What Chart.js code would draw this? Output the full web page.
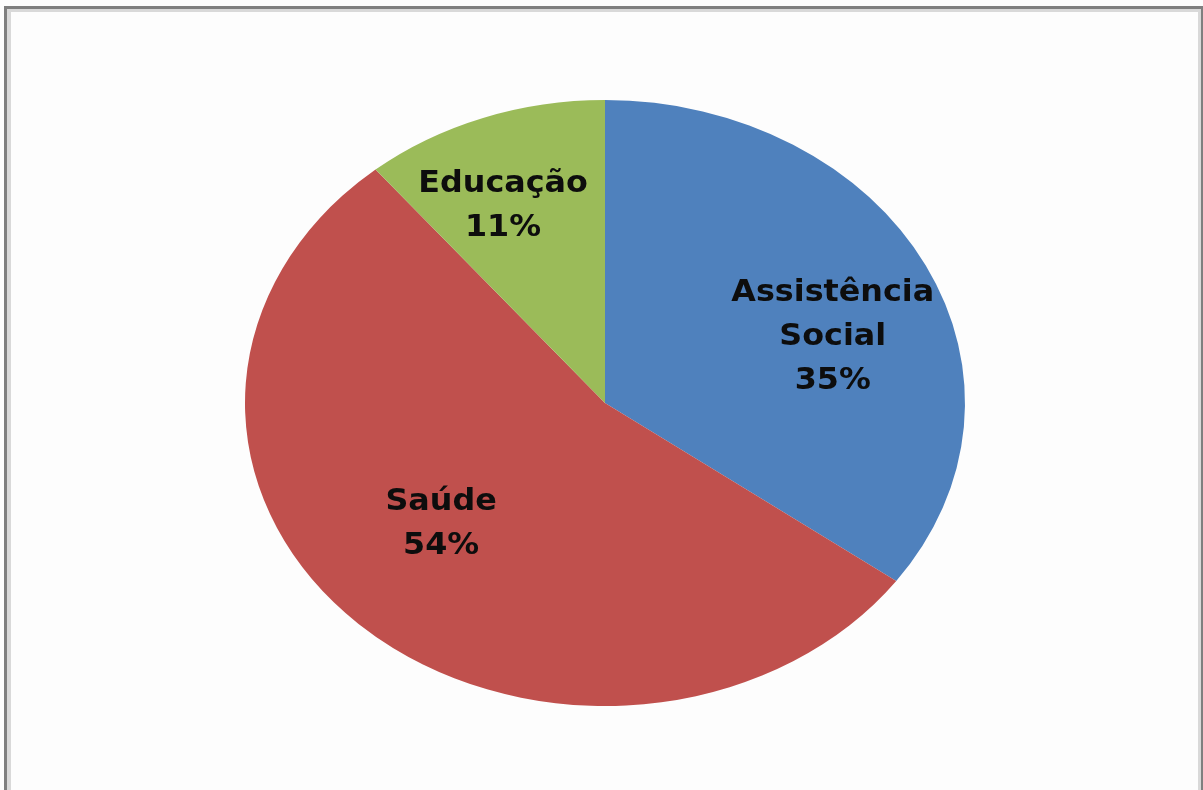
<!DOCTYPE html>
<html>
<head>
<meta charset="utf-8">
<script src="https://cdn.jsdelivr.net/npm/chart.js@4.4.1/dist/chart.umd.min.js"></script>
<style>
  html, body { margin: 0; padding: 0; background: #ffffff; }
  #wrap { position: relative; width: 1203px; height: 790px; }
  canvas { display: block; }
</style>
</head>
<body>
<div id="wrap"><canvas id="c" width="1203" height="790"></canvas></div>
<script>
const categories = ["Assistência Social", "Saúde", "Educação"];
const labelLines = [["Assistência", "Social"], ["Saúde"], ["Educação"]];
const values = [35, 54, 11];
const colors = ["#4F81BD", "#C0504D", "#9BBB59"];

// horizontal stretch of the (elliptical) pie, and label placement in ellipse-normalised units
const stretchX = 360 / 303;
const labelFrac = [[0.71, 0.48], [0.665, 0.55], [0.836, 0.69]];
const textStretch = 1.06;

const framePlugin = {
  id: 'frame',
  beforeDraw(chart) {
    const ctx = chart.ctx;
    ctx.save();
    ctx.fillStyle = '#fdfdfd';
    ctx.fillRect(0, 0, 1203, 790);
    ctx.fillStyle = '#d9d9d9';
    ctx.fillRect(7, 9, 1194, 3);
    ctx.fillRect(7, 9, 4, 781);
    ctx.fillRect(1198, 9, 3, 781);
    ctx.fillStyle = '#7f7f7f';
    ctx.fillRect(4, 6, 1199, 3);
    ctx.fillRect(4, 6, 3, 784);
    ctx.fillRect(1201, 6, 2, 784);
    ctx.restore();
  }
};

const ellipsePlugin = {
  id: 'ellipse',
  beforeDatasetsDraw(chart) {
    const arc = chart.getDatasetMeta(0).data[0];
    const ctx = chart.ctx;
    ctx.save();
    ctx.translate(arc.x, arc.y);
    ctx.scale(stretchX, 1);
    ctx.translate(-arc.x, -arc.y);
  },
  afterDatasetsDraw(chart) {
    chart.ctx.restore();
  }
};

const labelPlugin = {
  id: 'sliceLabels',
  afterDraw(chart) {
    const ctx = chart.ctx;
    const meta = chart.getDatasetMeta(0);
    const total = values.reduce((a, b) => a + b, 0);
    meta.data.forEach((arc, i) => {
      const mid = (arc.startAngle + arc.endAngle) / 2;
      const r = arc.outerRadius;
      const x = arc.x + Math.cos(mid) * r * stretchX * labelFrac[i][0];
      const y = arc.y + Math.sin(mid) * r * labelFrac[i][1];
      const lines = labelLines[i].concat([Math.round(values[i] / total * 100) + '%']);
      const lh = 44;
      const y0 = y - (lines.length - 1) * lh / 2;
      ctx.save();
      ctx.translate(x, 0);
      ctx.scale(textStretch, 1);
      ctx.font = 'bold 30px "DejaVu Sans", Verdana, sans-serif';
      ctx.fillStyle = '#0d0d0d';
      ctx.textAlign = 'center';
      ctx.textBaseline = 'middle';
      lines.forEach((t, k) => ctx.fillText(t, 0, y0 + k * lh));
      ctx.restore();
    });
  }
};

new Chart(document.getElementById('c'), {
  type: 'pie',
  data: {
    labels: categories,
    datasets: [{
      data: values,
      backgroundColor: colors,
      borderWidth: 0
    }]
  },
  options: {
    responsive: false,
    animation: false,
    layout: { padding: { top: 100, bottom: 84, left: 200, right: 193 } },
    plugins: {
      legend: { display: false },
      tooltip: { enabled: false }
    }
  },
  plugins: [framePlugin, ellipsePlugin, labelPlugin]
});
</script>
</body>
</html>
